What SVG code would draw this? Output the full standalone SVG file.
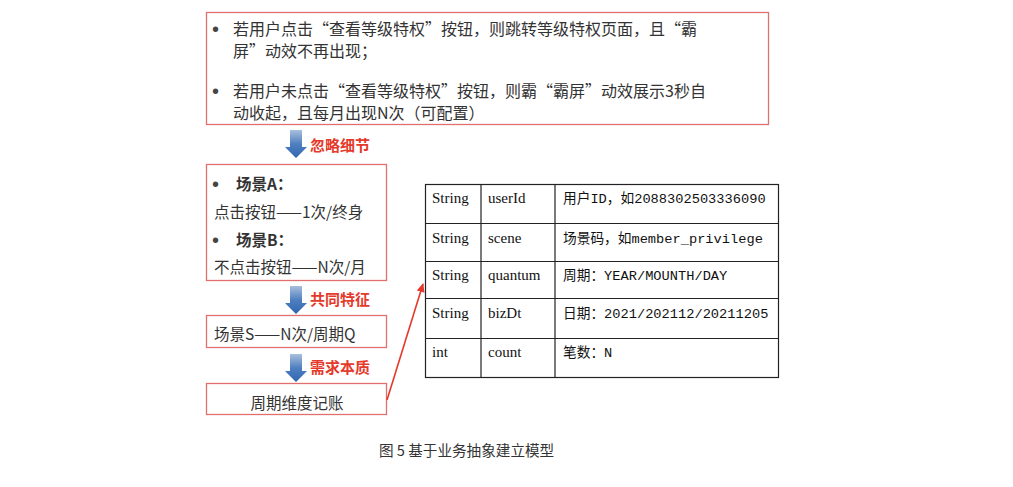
<svg xmlns="http://www.w3.org/2000/svg" width="1013" height="487" viewBox="0 0 1013 487">
<defs>
<linearGradient id="bg" x1="0" y1="0" x2="0" y2="1">
<stop offset="0" stop-color="#a9bfdc"/>
<stop offset="0.5" stop-color="#4f7fc0"/>
<stop offset="1" stop-color="#2f65b0"/>
</linearGradient>
<marker id="ah" markerWidth="10" markerHeight="10" refX="8" refY="5" orient="auto" markerUnits="userSpaceOnUse">
<path d="M0,1 L9,5 L0,9 Z" fill="#e5392b"/>
</marker>
<path id="barrow" d="M-6,0 L6,0 L6,17 L11,17 L0,28 L-11,17 L-6,17 Z" fill="url(#bg)"/>
</defs>
<style>
.box{fill:#fff;stroke:#e07070;stroke-width:1.3}
.cn{font-family:"Noto Sans CJK SC","Noto Sans",sans-serif;fill:#333}
.bul{font-family:"Liberation Sans",sans-serif;fill:#444;font-size:20px}
.lab{font-family:"Noto Sans CJK SC",sans-serif;font-weight:bold;fill:#e5392b;font-size:15px}
.tb{fill:none;stroke:#222;stroke-width:1.2}
.tt{font-family:"Liberation Serif","Noto Sans CJK SC",serif;font-size:15px;fill:#111}
.td{font-family:"Liberation Mono","Noto Sans CJK SC",monospace;font-size:13.7px;fill:#111}
</style>
<rect width="1013" height="487" fill="#fff"/>

<g id="n_top">
<rect class="box" x="206.5" y="12.5" width="562" height="112"/>
<g class="cn" font-size="16">
<text class="bul" x="212" y="36">•</text>
<text x="233" y="35">若用户点击“查看等级特权”按钮，则跳转等级特权页面，且“霸</text>
<text x="233" y="57">屏”动效不再出现；</text>
<text class="bul" x="212" y="98">•</text>
<text x="233" y="97">若用户未点击“查看等级特权”按钮，则霸“霸屏”动效展示3秒自</text>
<text x="233" y="119">动收起，且每月出现N次（可配置）</text>
</g>
</g>

<g id="a1"><use href="#barrow" x="296" y="130"/><text class="lab" x="310" y="151">忽略细节</text></g>

<g id="n_scene">
<rect class="box" x="206.5" y="164.5" width="180" height="116"/>
<g class="cn" font-size="15.5">
<text class="bul" x="212" y="191">•</text>
<text x="236" y="190" font-weight="bold">场景A：</text>
<text x="214" y="218">点击按钮——1次/终身</text>
<text class="bul" x="212" y="247">•</text>
<text x="236" y="246" font-weight="bold">场景B：</text>
<text x="214" y="273">不点击按钮——N次/月</text>
</g>
</g>

<g id="a2"><use href="#barrow" x="296" y="286"/><text class="lab" x="310" y="305">共同特征</text></g>

<g id="n_common">
<rect class="box" x="206.5" y="315.5" width="180" height="32"/>
<text class="cn" font-size="15.5" x="214" y="340">场景S——N次/周期Q</text>
</g>

<g id="a3"><use href="#barrow" x="296" y="354"/><text class="lab" x="310" y="373">需求本质</text></g>

<g id="n_essence">
<rect class="box" x="206.5" y="383.5" width="180" height="31"/>
<text class="cn" font-size="15.5" x="297" y="409" text-anchor="middle">周期维度记账</text>
</g>

<g id="connectors">
<line x1="387" y1="400" x2="423" y2="284" stroke="#e5392b" stroke-width="1.6" marker-end="url(#ah)"/>
</g>

<g id="n_table">
<rect class="tb" x="425.5" y="184.5" width="353" height="193"/>
<line class="tb" x1="481" y1="184" x2="481" y2="378"/>
<line class="tb" x1="555" y1="184" x2="555" y2="378"/>
<line class="tb" x1="425" y1="223.5" x2="779" y2="223.5"/>
<line class="tb" x1="425" y1="261.5" x2="779" y2="261.5"/>
<line class="tb" x1="425" y1="298.5" x2="779" y2="298.5"/>
<line class="tb" x1="425" y1="338.5" x2="779" y2="338.5"/>
<text class="tt" x="432" y="203">String</text><text class="tt" x="488" y="203">userId</text><text class="td" x="563" y="203">用户ID，如2088302503336090</text>
<text class="tt" x="432" y="243">String</text><text class="tt" x="488" y="243">scene</text><text class="td" x="563" y="243">场景码，如member_privilege</text>
<text class="tt" x="432" y="280">String</text><text class="tt" x="488" y="280">quantum</text><text class="td" x="563" y="280">周期：YEAR/MOUNTH/DAY</text>
<text class="tt" x="432" y="318">String</text><text class="tt" x="488" y="318">bizDt</text><text class="td" x="563" y="318">日期：2021/202112/20211205</text>
<text class="tt" x="432" y="357">int</text><text class="tt" x="488" y="357">count</text><text class="td" x="563" y="357">笔数：N</text>
</g>

<text class="cn" font-size="14.6" x="379" y="456" fill="#222">图 5 基于业务抽象建立模型</text>
</svg>
